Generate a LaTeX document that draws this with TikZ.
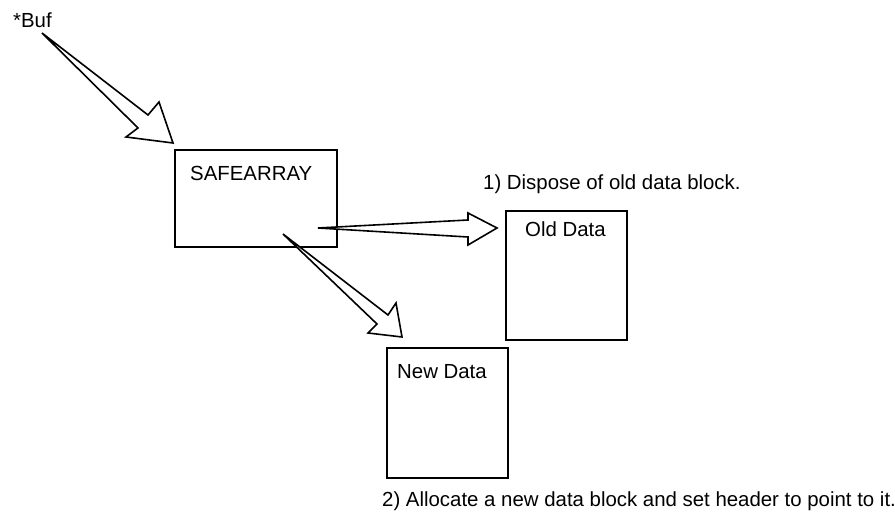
\documentclass[tikz,border=0pt]{standalone}
\usepackage{fontspec}
\setmainfont{Liberation Sans}
\begin{document}
\begin{tikzpicture}[x=1pt,y=-1pt,
  box/.style={draw=black,line width=1.6pt,fill=white,inner sep=0pt},
  lbl/.style={anchor=base west,inner sep=0pt,font=\fontsize{20.4pt}{24pt}\selectfont},
  blockarrow/.style={draw=black,line width=1.6pt,line join=miter,fill=white}]
\useasboundingbox (0,0) rectangle (895,518);
% boxes
\node[box,minimum width=162pt,minimum height=97pt] (safe) at (256,198.5) {};
\node[box,minimum width=121pt,minimum height=129pt] (old) at (566.5,275.5) {};
\node[box,minimum width=121pt,minimum height=130pt] (new) at (447.5,413) {};
% labels
\node[lbl] (buf) at (13,28) {*Buf};
\node[lbl] (safelbl) at (190,181) {SAFEARRAY};
\node[lbl] (oldlbl) at (525,237) {Old Data};
\node[lbl] (newlbl) at (397,379) {New Data};
\node[lbl] (step1) at (483,190) {1) Dispose of old data block.};
\node[lbl] (step2) at (382,507) {2) Allocate a new data block and set header to point to it.};
% arrow end points
\coordinate (t1) at (42,33);  \coordinate (h1) at (173,143);
\coordinate (t2) at (318,228); \coordinate (h2) at (497,228);
\coordinate (t3) at (283,234); \coordinate (h3) at (402,337);
% block arrows
\draw[blockarrow] (t1) -- (148,115) -- (159,102) -- (h1) -- (126,137) -- (138,128) -- cycle;
\draw[blockarrow] (t2) -- (468,220) -- (468,213) -- (h2) -- (468,245) -- (468,237) -- cycle;
\draw[blockarrow] (t3) -- (388,315) -- (396,303) -- (h3) -- (368,333) -- (377,324) -- cycle;
\end{tikzpicture}
\end{document}
